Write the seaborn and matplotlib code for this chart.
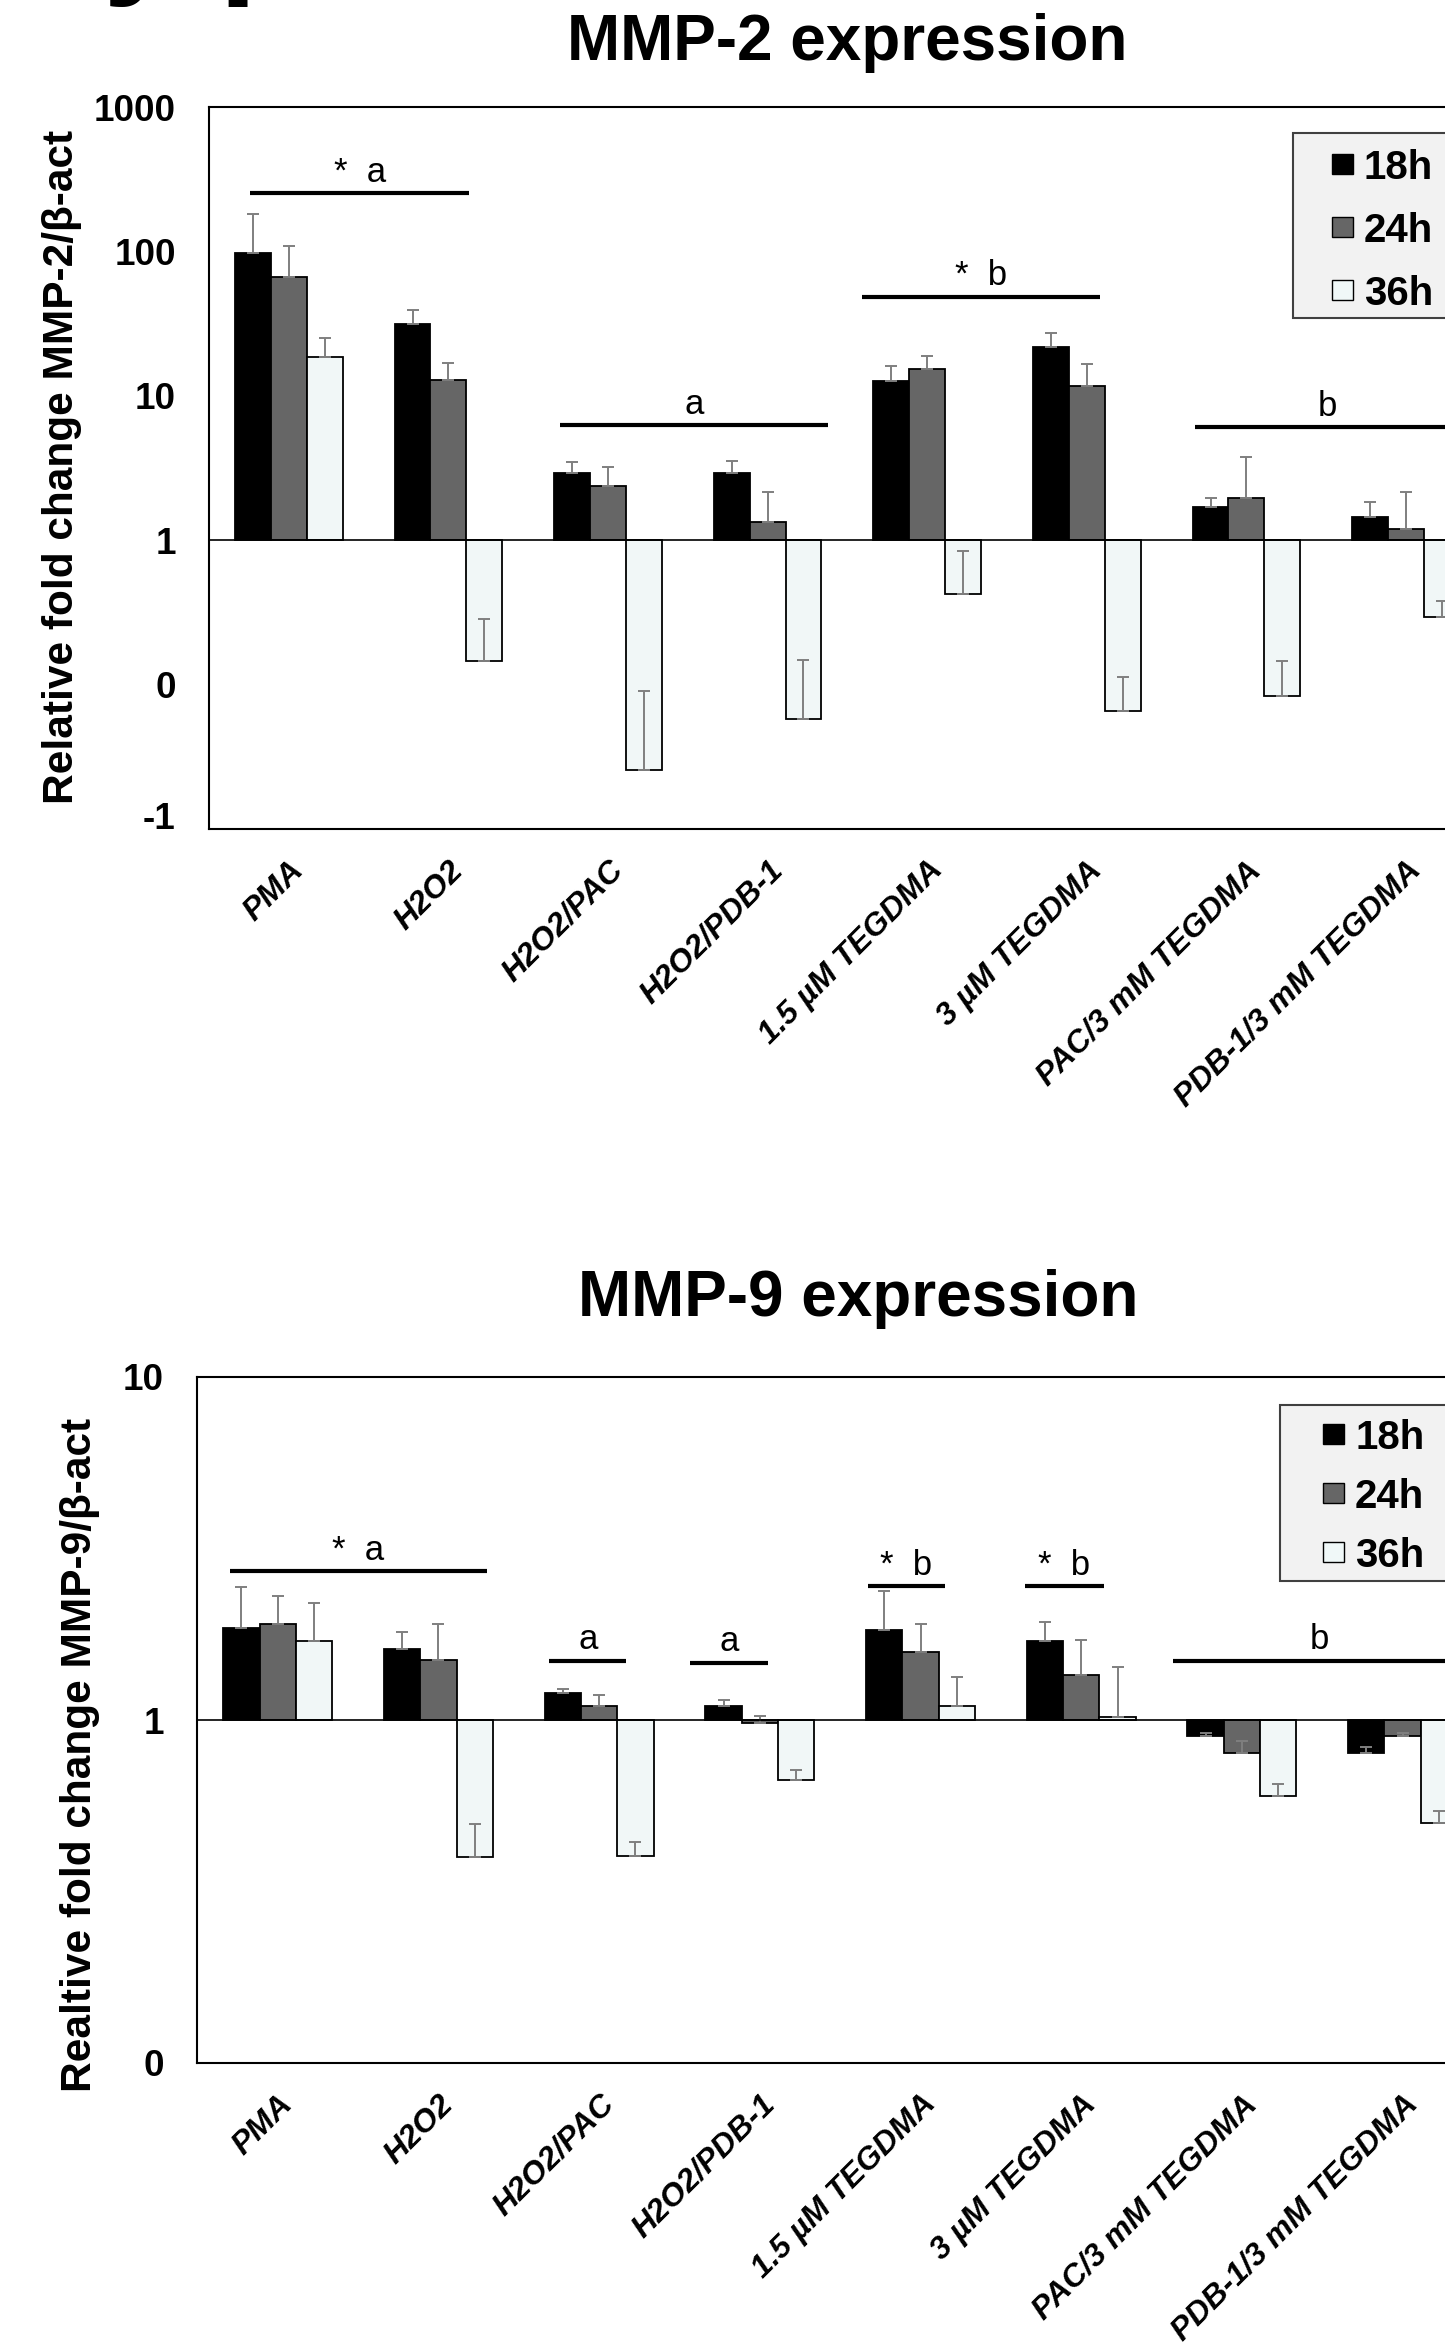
import numpy as np
import pandas as pd
import seaborn as sns
import matplotlib.pyplot as plt
from matplotlib.patches import Rectangle

W, H = 1445, 2345

categories = ['PMA', 'H2O2', 'H2O2/PAC', 'H2O2/PDB-1', '1.5 µM TEGDMA',
              '3 µM TEGDMA', 'PAC/3 mM TEGDMA', 'PDB-1/3 mM TEGDMA']
times = ['18h', '24h', '36h']
colors = {'18h': '#000000', '24h': '#666666', '36h': '#f0f8f8'}

# MMP-2 fold change and upper error
mmp2_18h = [97, 31.6, 2.92, 2.93, 12.7, 21.9, 1.70, 1.45]
mmp2_24h = [66, 12.8, 2.37, 1.33, 15.4, 11.6, 1.97, 1.19]
mmp2_36h = [18.7, 0.146, 0.0255, 0.058, 0.427, 0.066, 0.0835, 0.295]
mmp2_18h_err = [86, 7.4, 0.57, 0.62, 3.3, 5.5, 0.25, 0.39]
mmp2_24h_err = [43, 4.0, 0.86, 0.83, 3.6, 5.1, 1.8, 0.95]
mmp2_36h_err = [6.3, 0.14, 0.065, 0.09, 0.42, 0.047, 0.062, 0.085]

# MMP-9 fold change and upper error
mmp9_18h = [1.85, 1.61, 1.20, 1.10, 1.83, 1.70, 0.896, 0.803]
mmp9_24h = [1.91, 1.50, 1.10, 0.98, 1.58, 1.35, 0.803, 0.899]
mmp9_36h = [1.70, 0.398, 0.40, 0.669, 1.10, 1.017, 0.601, 0.50]
mmp9_18h_err = [0.60, 0.19, 0.03, 0.047, 0.54, 0.23, 0.022, 0.033]
mmp9_24h_err = [0.39, 0.41, 0.08, 0.048, 0.33, 0.36, 0.066, 0.019]
mmp9_36h_err = [0.50, 0.10, 0.04, 0.045, 0.235, 0.41, 0.048, 0.043]

# significance brackets: (x start, x end, fold-change level, label)
mmp2_marks = [(-0.24, 1.13, 253, '*  a'), (1.70, 3.38, 6.3, 'a'),
              (3.59, 5.08, 48.7, '*  b'), (5.68, 7.33, 6.1, 'b')]
mmp9_marks = [(-0.30, 1.30, 2.71, '*  a'), (1.69, 2.17, 1.49, 'a'),
              (2.565, 3.05, 1.47, 'a'), (3.67, 4.15, 2.46, '*  b'),
              (4.65, 5.14, 2.46, '*  b'), (5.57, 7.40, 1.49, 'b')]

mmp2_ticks = [1000, 100, 10, 1, 0.1, 0.01]
mmp2_ticklabels = ['1000', '100', '10', '1', '0', '-1']
mmp9_ticks = [10, 1, 0.1]
mmp9_ticklabels = ['10', '1', '0']

sns.set_style('white')
plt.rcParams['font.family'] = ['Liberation Sans', 'DejaVu Sans']
plt.rcParams['text.color'] = 'black'
plt.rcParams['xtick.color'] = 'black'
plt.rcParams['ytick.color'] = 'black'

fig = plt.figure(figsize=(W / 100, H / 100), dpi=100)


def fx(x):
    return x / W


def fy(y):
    return 1 - y / H


def panel(rect, vals, errs, marks, ticks, ticklabels, ylim, width):
    ax = fig.add_axes(rect)
    df = pd.DataFrame({
        'condition': np.tile(categories, 3),
        'time': np.repeat(times, len(categories)),
        'logfc': np.log10(np.concatenate(vals)),
    })
    sns.barplot(data=df, x='condition', y='logfc', hue='time', order=categories,
                hue_order=times, palette=colors, width=width, edgecolor='black',
                linewidth=1.3, errorbar=None, legend=False, ax=ax)
    for cont, v, e in zip(ax.containers, vals, errs):
        xs = [b.get_x() + b.get_width() / 2 for b in cont]
        v = np.array(v)
        up = np.log10(v + np.array(e)) - np.log10(v)
        ax.errorbar(xs, np.log10(v), yerr=[np.zeros_like(up), up], fmt='none',
                    ecolor='#7f7f7f', elinewidth=1.4, capsize=4.5, capthick=1.4, zorder=3)
    ax.axhline(0, color='black', lw=1.2, zorder=4)
    for x0, x1, lvl, txt in marks:
        ax.plot([x0, x1], [np.log10(lvl)] * 2, color='black', lw=3, solid_capstyle='butt')
        ax.annotate(txt, ((x0 + x1) / 2, np.log10(lvl)), xytext=(0, 8),
                    textcoords='offset points', ha='center', va='baseline', fontsize=25)
    ax.set_xlim(-0.5, len(categories) - 0.5)
    ax.set_ylim(*ylim)
    ax.set_yticks(np.log10(ticks))
    ax.set_yticklabels(ticklabels, fontsize=26.5, fontweight='bold')
    ax.set_xticks(range(len(categories)))
    ax.set_xticklabels(categories, rotation=45, ha='right', va='top', rotation_mode='anchor',
                       fontsize=23, fontweight='bold', fontstyle='italic')
    ax.tick_params(axis='both', length=0)
    ax.tick_params(axis='y', pad=24)
    ax.tick_params(axis='x', pad=19)
    ax.set_xlabel('')
    ax.set_ylabel('')
    for s in ax.spines.values():
        s.set_color('black')
        s.set_linewidth(1.5)
    return ax


ax1 = panel([fx(209), fy(829), fx(8 * 159.6), 722 / H],
            [mmp2_18h, mmp2_24h, mmp2_36h], [mmp2_18h_err, mmp2_24h_err, mmp2_36h_err],
            mmp2_marks, mmp2_ticks, mmp2_ticklabels, (-2, 3), 0.673)
ax1.get_yticklabels()[-1].set_va('baseline')
ax2 = panel([fx(197.4), fy(2063), fx(8 * 160.7), 686 / H],
            [mmp9_18h, mmp9_24h, mmp9_36h], [mmp9_18h_err, mmp9_24h_err, mmp9_36h_err],
            mmp9_marks, mmp9_ticks, mmp9_ticklabels, (-1, 1), 0.678)

fig.text(fx(847), fy(60), 'MMP-2 expression', ha='center', va='baseline',
         fontsize=46, fontweight='bold')
fig.text(fx(858), fy(1316), 'MMP-9 expression', ha='center', va='baseline',
         fontsize=46, fontweight='bold')
fig.text(fx(62), fy(467), 'Relative fold change MMP-2/β-act', rotation=90,
         ha='center', va='center', fontsize=30.5, fontweight='bold')
fig.text(fx(80), fy(1755), 'Realtive fold change MMP-9/β-act', rotation=90,
         ha='center', va='center', fontsize=30.5, fontweight='bold')
fig.text(fx(103), fy(-22), 'y p', ha='left', va='baseline', fontsize=100, fontweight='bold')


def legend_box(x0, y0, y1, mx, tx, rows):
    fig.add_artist(Rectangle((fx(x0), fy(y1)), fx(300), (y1 - y0) / H, transform=fig.transFigure,
                             facecolor='#f2f2f2', edgecolor='#404040', lw=1.5))
    for t, yc in zip(times, rows):
        fig.add_artist(Rectangle((fx(mx), fy(yc + 10)), fx(21), 20 / H, transform=fig.transFigure,
                                 facecolor=colors[t], edgecolor='black', lw=1.0))
        fig.text(fx(tx), fy(yc), t, ha='left', va='center_baseline', fontsize=29, fontweight='bold')


legend_box(1293, 133, 318, 1332, 1364, [164, 227, 290])
legend_box(1280, 1405, 1581, 1323, 1355, [1434, 1493, 1552])

fig.savefig('out.png', dpi=100)
